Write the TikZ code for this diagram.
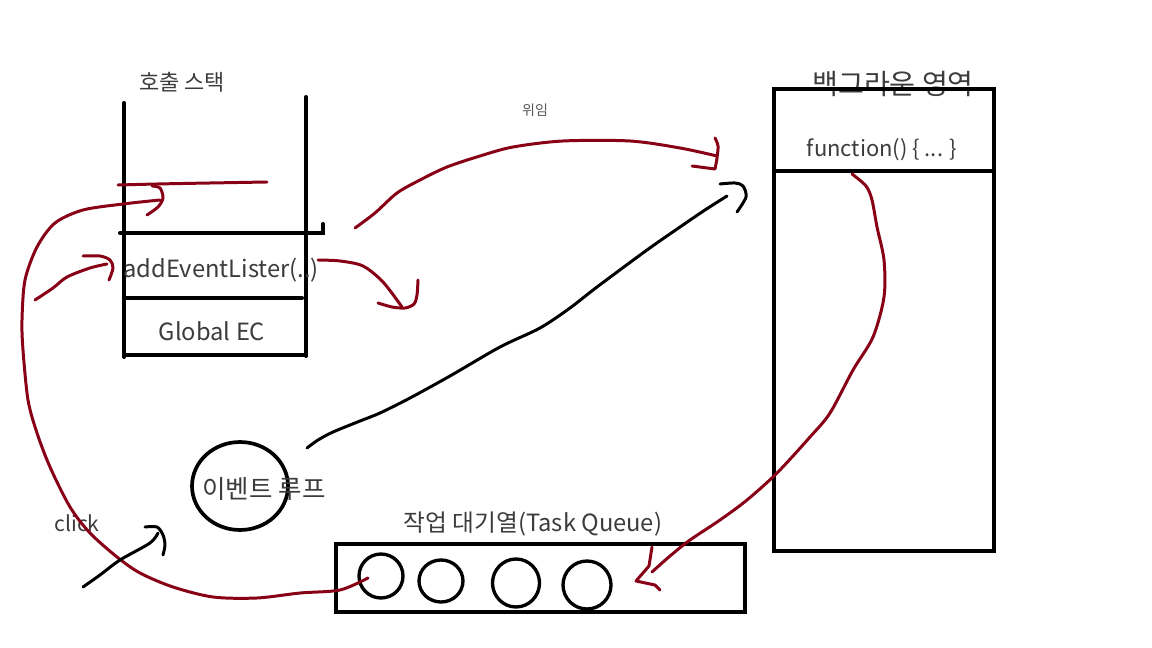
\documentclass[tikz,border=0pt]{standalone}
\usepackage{fontspec}
\setmainfont{Noto Sans CJK KR}
\usetikzlibrary{shapes.geometric}
\definecolor{inkred}{HTML}{880015}
\definecolor{inkgray}{HTML}{3C3C3C}

\begin{document}
\begin{tikzpicture}[
    x=0.02cm, y=-0.02cm,
    wall/.style={line width=2.3pt, line cap=round},
    frame/.style={line width=2.3pt},
    redpen/.style={draw=inkred, line width=1.7pt, line cap=round, line join=round},
    blackpen/.style={draw=black, line width=1.7pt, line cap=round, line join=round},
    txt/.style={text=inkgray, inner sep=0pt, font=\fontsize{13.5}{16}\selectfont},
    title/.style={txt, font=\fontsize{12.5}{14}\selectfont},
    slot/.style={draw, ellipse, line width=1.9pt, inner sep=0pt},
]
\useasboundingbox (0,0) rectangle (1152,648);

% === Call stack ===
\node[title] (stacktitle) at (182,82) {호출 스택};
\draw[wall] (124,103) -- (124,357);
\draw[wall] (306,97) -- (306,356);
\draw[wall] (124,355) -- (306,355);
\draw[wall] (120,233) -- (323,233) -- (323,224);
\draw[wall] (126,298) -- (302,298);
\node[txt] (listener) at (221,270) {addEventLister(..)};
\node[txt] (globalec) at (212,331) {Global EC};

% === Background area (title sits under the top edge) ===
\node[txt, font=\fontsize{16}{18}\selectfont] (bgtitle) at (893,84) {백그라운 영역};
\draw[frame] (774,89) rectangle (994,551);
\draw[frame] (774,171) -- (994,171);
\node[txt, font=\fontsize{12.5}{15}\selectfont] (callback) at (882,150) {function() \{ ... \}};

% === Event loop ===
\node[slot, minimum width=1.92cm, minimum height=1.76cm, line width=2.1pt] (loop) at (240,486) {};
\node[txt, font=\fontsize{14.5}{16}\selectfont] (looplabel) at (264,489) {이벤트 루프};

% === Task queue ===
\node[txt] (queuetitle) at (533,524) {작업 대기열(Task Queue)};
\draw[frame] (336,544) rectangle (745,612);
\node[slot, minimum width=0.88cm, minimum height=0.88cm] (job1) at (381,576) {};
\node[slot, minimum width=0.88cm, minimum height=0.84cm] (job2) at (441,581) {};
\node[slot, minimum width=0.94cm, minimum height=0.96cm] (job3) at (516,583) {};
\node[slot, minimum width=0.96cm, minimum height=0.96cm] (job4) at (587,585) {};

% === Small labels ===
\node[txt, font=\fontsize{8}{9}\selectfont, text=inkgray!85] (delegate) at (535,110) {위임};
\node[txt, font=\fontsize{12}{14}\selectfont] (click) at (77,523) {click};

% === Hand-drawn connectors ===
\coordinate (frameIn)  at (118,185);
\coordinate (frameOut) at (267,182);
\coordinate (dlgFrom)  at (355,228);
\coordinate (dlgTo)    at (717,156);
\coordinate (popFrom)  at (318,260);
\coordinate (popTo)    at (402,307);
\coordinate (loopFrom) at (307,448);
\coordinate (loopTo)   at (727,196);
\coordinate (cbFrom)   at (852,174);
\coordinate (cbTo)     at (652,572);
\coordinate (jobFrom)  at (368,578);
\coordinate (jobTo)    at (160,200);
\coordinate (clickFrom) at (83,587);
\coordinate (clickTo)  at (158,533);
\coordinate (pushFrom) at (35,300);
\coordinate (pushTo)   at (107,264);

% new frame pushed on the stack
\draw[redpen] plot[smooth] coordinates {(frameIn) (157,184) (210,183) (frameOut)};

% listener handed to the background (위임)
\draw[redpen] plot[smooth] coordinates {(dlgFrom) (375,213) (397,193) (420,180) (447,167)
    (480,156) (513,147) (563,141) (630,141) (680,148) (dlgTo)};
\draw[redpen] plot[smooth] coordinates {(715,138) (718,146) (717,158) (715,169)} -- (692,166);

% listener popped off the stack
\draw[redpen] plot[smooth] coordinates {(popFrom) (340,261) (363,266) (383,282) (popTo)};
\draw[redpen] plot[smooth] coordinates {(378,303) (392,307) (405,308) (414,304) (417,295) (418,280)};

% event loop checks the background
\draw[blackpen] plot[smooth] coordinates {(loopFrom) (318,440) (333,432) (360,421) (380,413)
    (410,398) (450,376) (500,347) (540,328) (570,308) (597,287) (647,250) (680,227)
    (705,210) (loopTo)};
\draw[blackpen] plot[smooth] coordinates {(720,184) (735,183) (743,186) (746,197) (737,212)};

% callback moved into the task queue
\draw[redpen] plot[smooth] coordinates {(cbFrom) (866,186) (872,200) (877,227) (884,260)
    (884,297) (873,337) (853,370) (830,413) (810,437) (777,473) (747,500) (720,520)
    (690,540) (670,556) (cbTo)};
\draw[redpen] (652,547) -- (649,566) -- (636,581) -- (655,585) -- (660,590);

% queued job goes back onto the stack
\draw[redpen] plot[smooth] coordinates {(jobFrom) (340,590) (300,593) (257,598) (213,597)
    (173,587) (140,573) (117,557) (90,533) (70,507) (50,467) (37,433) (28,400)
    (23,350) (22,320) (25,280) (37,247) (55,223) (83,210) (123,204) (jobTo)};
\draw[redpen] plot[smooth] coordinates {(147,215) (158,207) (163,198) (160,188) (152,186)};

% click event
\draw[blackpen] plot[smooth] coordinates {(clickFrom) (100,575) (120,560) (150,543) (clickTo)};
\draw[blackpen] plot[smooth] coordinates {(145,527) (157,527) (163,535) (165,545) (163,555)};

% handler pushed next to addEventLister
\draw[redpen] plot[smooth] coordinates {(pushFrom) (53,288) (67,277) (90,268) (pushTo)};
\draw[redpen] plot[smooth] coordinates {(83,256) (100,256) (110,260) (113,268) (109,280)};

\end{tikzpicture}
\end{document}
